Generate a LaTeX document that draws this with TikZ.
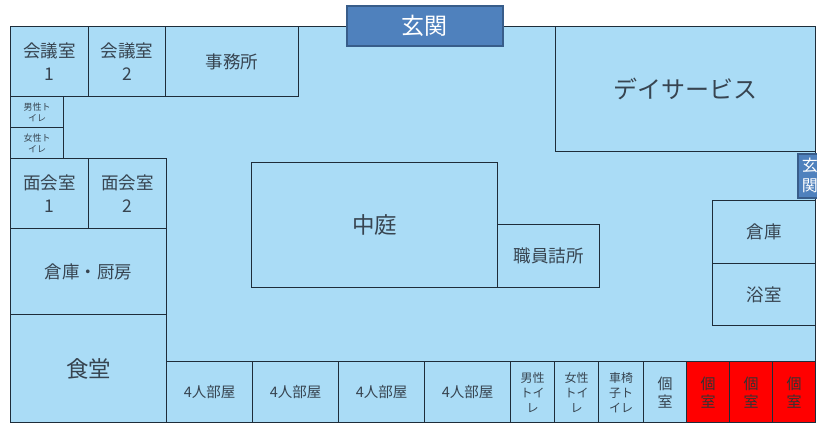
\documentclass[tikz,border=0pt]{standalone}
\usepackage{fontspec}
\setmainfont{Noto Sans CJK JP}
\definecolor{floorc}{RGB}{170,220,246}
\definecolor{linec}{RGB}{30,45,58}
\definecolor{textc}{RGB}{55,68,80}
\definecolor{genkanfill}{RGB}{79,129,189}
\definecolor{genkanline}{RGB}{56,93,138}
\tikzset{
  room/.style={draw=linec, fill=floorc, line width=1.4pt, inner sep=0pt, anchor=north west, align=center, text=textc, font=\fontsize{17.5}{23}\selectfont},
  redroom/.style={room, fill=red, text=black!80},
  genkanbox/.style={draw=genkanline, fill=genkanfill, line width=1.5pt, inner sep=0pt, anchor=north west, align=center, text=white},
}
\begin{document}
\begin{tikzpicture}[x=1pt,y=-1pt]
\useasboundingbox (0,0) rectangle (817,423);
% building outline
\node[room, minimum width=805pt, minimum height=396pt] (bldg) at (10,26) {};
% top rooms
\node[room, minimum width=78pt, minimum height=70pt] (kaigi1) at (10,26) {会議室\\1};
\node[room, minimum width=77pt, minimum height=70pt] (kaigi2) at (88,26) {会議室\\2};
\node[room, minimum width=133pt, minimum height=70pt] (jimu) at (165,26) {事務所};
% small toilets
\node[room, minimum width=53pt, minimum height=31pt, font=\fontsize{9}{11}\selectfont] (wcm) at (10,96) {男性ト\\イレ};
\node[room, minimum width=53pt, minimum height=31pt, font=\fontsize{9}{11}\selectfont] (wcf) at (10,127) {女性ト\\イレ};
% meeting rooms
\node[room, minimum width=78pt, minimum height=70pt] (menkai1) at (10,158) {面会室\\1};
\node[room, minimum width=78pt, minimum height=70pt] (menkai2) at (88,158) {面会室\\2};
\node[room, minimum width=156pt, minimum height=86pt] (kitchen) at (10,228) {倉庫・厨房};
\node[room, minimum width=156pt, minimum height=108pt, font=\fontsize{22.5}{26}\selectfont] (shokudo) at (10,314) {食堂};
% day service
\node[room, minimum width=260pt, minimum height=125pt, font=\fontsize{24}{28}\selectfont] (day) at (555,26) {デイサービス};
% courtyard and staff
\node[room, minimum width=246pt, minimum height=125pt, font=\fontsize{22.5}{26}\selectfont] (niwa) at (251,162) {中庭};
\node[room, minimum width=102pt, minimum height=63pt] (staff) at (497,224) {職員詰所};
% right side
\node[room, minimum width=103pt, minimum height=63pt] (souko) at (712,200) {倉庫};
\node[room, minimum width=103pt, minimum height=62pt] (yoku) at (712,263) {浴室};
% bottom row
\node[room, minimum width=86pt, minimum height=61pt, font=\fontsize{14.5}{17}\selectfont] (r1) at (166,361) {4人部屋};
\node[room, minimum width=86pt, minimum height=61pt, font=\fontsize{14.5}{17}\selectfont] (r2) at (252,361) {4人部屋};
\node[room, minimum width=86pt, minimum height=61pt, font=\fontsize{14.5}{17}\selectfont] (r3) at (338,361) {4人部屋};
\node[room, minimum width=86pt, minimum height=61pt, font=\fontsize{14.5}{17}\selectfont] (r4) at (424,361) {4人部屋};
\node[room, minimum width=44pt, minimum height=61pt, font=\fontsize{12}{15}\selectfont] (bwcm) at (510,361) {男性\\トイ\\レ};
\node[room, minimum width=44pt, minimum height=61pt, font=\fontsize{12}{15}\selectfont] (bwcf) at (554,361) {女性\\トイ\\レ};
\node[room, minimum width=45pt, minimum height=61pt, font=\fontsize{12}{15}\selectfont] (bwcw) at (598,361) {車椅\\子ト\\イレ};
\node[room, minimum width=43pt, minimum height=61pt, font=\fontsize{15}{18}\selectfont] (ko1) at (643,361) {個\\室};
\node[redroom, minimum width=43pt, minimum height=61pt, font=\fontsize{15}{18}\selectfont] (ko2) at (686,361) {個\\室};
\node[redroom, minimum width=43pt, minimum height=61pt, font=\fontsize{15}{18}\selectfont] (ko3) at (729,361) {個\\室};
\node[redroom, minimum width=43pt, minimum height=61pt, font=\fontsize{15}{18}\selectfont] (ko4) at (772,361) {個\\室};
% entrances
\node[genkanbox, minimum width=156pt, minimum height=40pt, font=\fontsize{23}{26}\selectfont] (genkan) at (346,5) {玄関};
\node[genkanbox, minimum width=24pt, minimum height=44pt, font=\fontsize{16}{20}\selectfont] (genkan2) at (797,153) {玄\\関};
\end{tikzpicture}
\end{document}
